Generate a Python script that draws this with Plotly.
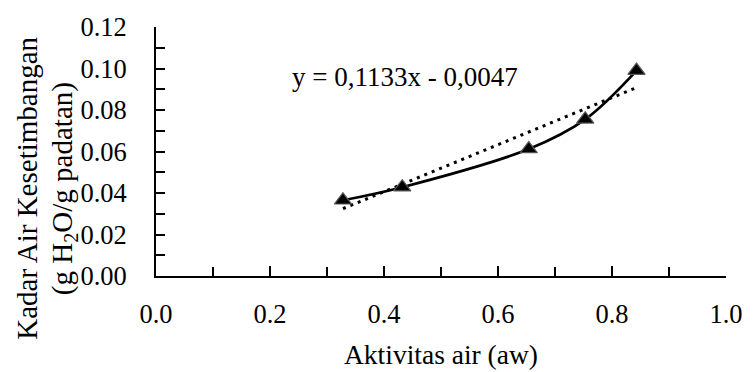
import plotly.graph_objects as go

# Data
aw = [0.328, 0.432, 0.654, 0.753, 0.843]
moisture = [0.0365, 0.0428, 0.0612, 0.0755, 0.0990]
trend_slope = 0.1133
trend_intercept = -0.0047
equation_label = "y = 0,1133x - 0,0047"
x_title = "Aktivitas air (aw)"
y_title_1 = "Kadar Air Kesetimbangan"
y_title_2 = "(g H<sub>2</sub>O/g padatan)"
x_ticks = [0.0, 0.2, 0.4, 0.6, 0.8, 1.0]
x_ticklabels = ["0.0", "0.2", "0.4", "0.6", "0.8", "1.0"]
y_ticks = [0.00, 0.02, 0.04, 0.06, 0.08, 0.10, 0.12]
y_ticklabels = ["0.00", "0.02", "0.04", "0.06", "0.08", "0.10", "0.12"]

FONT = "Liberation Serif, Times New Roman, serif"
TICK_FS = 26.5
EQ_FS = 27
XT_FS = 27.5
YT_FS = 29

# plot area in pixels: x 156..735, y 25..276
L, R, T, B = 156, 20, 25, 96
PW, PH = 755 - L - R, 372 - T - B

trend_x = [min(aw), max(aw)]
trend_y = [trend_slope * v + trend_intercept for v in trend_x]

fig = go.Figure()
fig.add_trace(go.Scatter(
    x=trend_x, y=trend_y, mode="lines",
    line=dict(color="black", width=3, dash="3px,5px"),
    hoverinfo="skip", showlegend=False,
))
fig.add_trace(go.Scatter(
    x=aw, y=moisture, mode="lines+markers",
    line=dict(color="black", width=2.7, shape="spline", smoothing=1),
    marker=dict(symbol="triangle-up", size=15, color="black",
                line=dict(color="#595959", width=1.2)),
    showlegend=False,
))

fig.update_layout(
    width=755, height=372,
    margin=dict(l=L, r=R, t=T, b=B),
    paper_bgcolor="white", plot_bgcolor="white",
    font=dict(family=FONT, size=TICK_FS, color="black"),
    showlegend=False,
)
fig.update_xaxes(
    range=[0, 1], tickvals=x_ticks, ticktext=x_ticklabels,
    showgrid=False, zeroline=False,
    showline=True, linecolor="black", linewidth=1.8,
    ticks="inside", ticklen=10, tickwidth=1.5, tickcolor="black",
    minor=dict(dtick=0.1, ticks="inside", ticklen=9, tickwidth=1.5, tickcolor="black", showgrid=False),
    ticklabelstandoff=13,
    tickfont=dict(size=TICK_FS),
)
fig.update_yaxes(
    range=[0, 0.12], tickvals=y_ticks, ticktext=y_ticklabels,
    showgrid=False, zeroline=False,
    showline=True, linecolor="black", linewidth=1.8,
    ticks="inside", ticklen=9, tickwidth=1.5, tickcolor="black",
    minor=dict(dtick=0.01, ticks="inside", ticklen=9, tickwidth=1.5, tickcolor="black", showgrid=False),
    ticklabelstandoff=22,
    tickfont=dict(size=TICK_FS),
)

fig.add_annotation(text=y_title_1, xref="paper", yref="paper",
                   x=(25 - L) / PW, y=(T + PH - 188) / PH,
                   xanchor="center", yanchor="middle", textangle=-90,
                   showarrow=False, font=dict(size=YT_FS))
fig.add_annotation(text=y_title_2, xref="paper", yref="paper",
                   x=(62 - L) / PW, y=(T + PH - 188) / PH,
                   xanchor="center", yanchor="middle", textangle=-90,
                   showarrow=False, font=dict(size=YT_FS))
fig.add_annotation(text=x_title, xref="paper", yref="paper",
                   x=0.5, y=(T + PH - 355) / PH,
                   xanchor="center", yanchor="middle",
                   showarrow=False, font=dict(size=XT_FS))
fig.add_annotation(text=equation_label, xref="x", yref="y",
                   x=0.437, y=0.0961, xanchor="center", yanchor="middle",
                   showarrow=False, font=dict(size=EQ_FS))

fig.write_html("out.html", config={"displayModeBar": False},
               post_script="document.body.style.margin='0';")
